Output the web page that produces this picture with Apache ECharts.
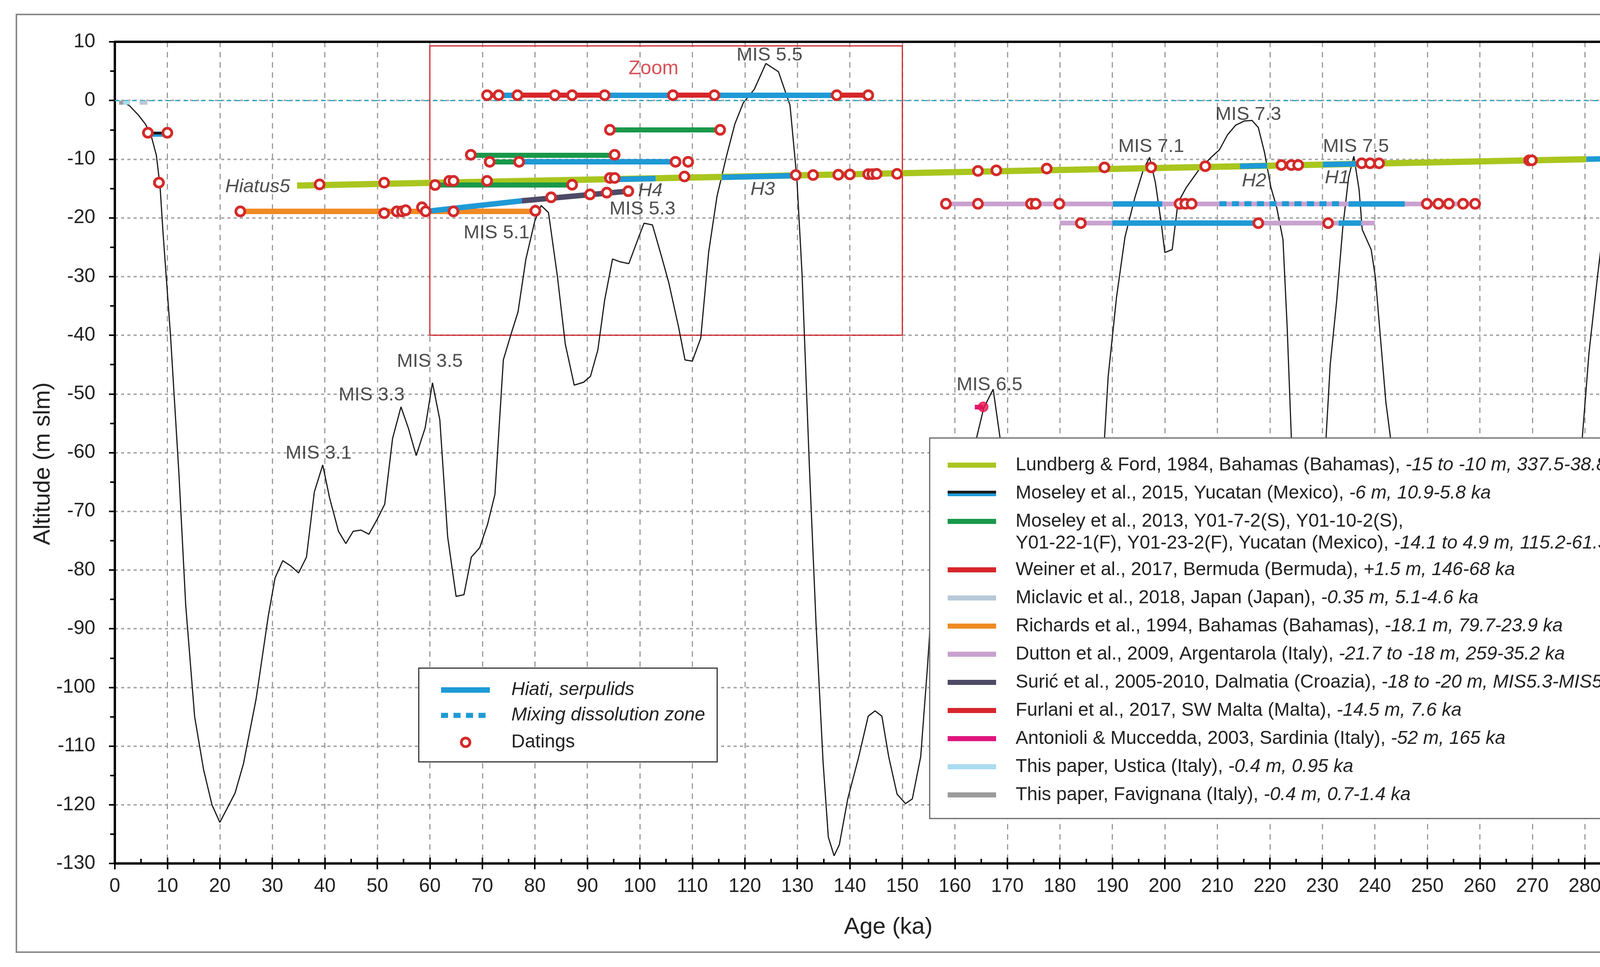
<!DOCTYPE html>
<html>
<head>
<meta charset="utf-8">
<title>Sea level curve and cave hiati</title>
<script src="https://cdn.jsdelivr.net/npm/echarts@6/dist/echarts.min.js"></script>
<style>
  html, body { margin: 0; padding: 0; background: #fff; }
  #main { width: 4433px; height: 2475px; }
</style>
</head>
<body>
<div id="main"></div>
<script>
// sea level curve, [age ka, altitude m]
var seaLevel = [
  [2, -0.5], [2.8, -0.9], [4.5, -2.5], [5.8, -4], [6.8, -5.6], [7.9, -9.3], [8.6, -14.5], [9.2, -22.8],
  [10.6, -40], [12.2, -63.5], [13.5, -86], [15.2, -105], [16.9, -114], [18.5, -120], [20, -123],
  [22.9, -118], [24.5, -113], [26.9, -102], [29.2, -88], [30.5, -81.4], [32, -78.4], [33.5, -79.3],
  [35, -80.5], [36.5, -77.8], [38, -66.7], [39.6, -62.1], [40.9, -67.7], [42.6, -73.4], [44, -75.5],
  [45.4, -73.4], [46.9, -73.2], [48.4, -73.9], [50, -71.3], [51.4, -68.8], [52.9, -57.6], [54.5, -52.2],
  [55.9, -55.8], [57.4, -60.5], [59.1, -55.8], [60.5, -48.1], [61.9, -54.4], [63.4, -74.4], [65, -84.5],
  [66.5, -84.2], [67.9, -77.8], [69.5, -76.2], [71, -72.2], [72.4, -67.1], [74, -44.2], [75.4, -40],
  [76.8, -36], [78.3, -27], [80, -20.5], [81.2, -17.9], [82.6, -19.1], [84.3, -30], [85.8, -41.5],
  [87.5, -48.5], [89.3, -48], [90.6, -47], [92, -42.5], [93.3, -34], [94.8, -27], [96.3, -27.5],
  [97.9, -27.8], [99.9, -23], [100.8, -20.9], [102.4, -21.2], [104.2, -26.8], [105.5, -31], [107.4, -38.7],
  [108.6, -44.2], [110, -44.4], [111.6, -40.5], [113.1, -25.9], [114.7, -16.3], [116.5, -9.5], [118.1, -4],
  [119.7, -0.4], [121.8, 1.9], [124, 6.3], [126.4, 4.9], [128.6, -0.8], [129.9, -13.2], [130.9, -29.6],
  [132.3, -62.5], [133.6, -89.9], [134.9, -112.7], [135.9, -125.5], [137, -128.7], [138, -126.8],
  [139.6, -119], [141.7, -111.8], [143.5, -104.9], [144.8, -104], [146.1, -104.9], [147.4, -111.8],
  [149, -118.2], [150.6, -119.8], [151.9, -119], [153.5, -111.8], [154.8, -96.3], [156, -80], [158, -70],
  [160, -64], [162, -60], [164, -58], [165.5, -52.4], [167.3, -49.2], [168.6, -57.4], [170, -72],
  [172, -90], [175, -105], [178, -112], [181, -108], [184, -95], [186.5, -75], [188.5, -57.6],
  [189.2, -47.1], [190.8, -33.5], [192.4, -23.3], [194.3, -16.5], [195.9, -11.8], [197.1, -9.7],
  [198.2, -14], [199.3, -20.8], [200, -25.9], [201.4, -25.4], [202.5, -17.4], [204.1, -14.8],
  [206.5, -11.8], [208.8, -9.7], [210.4, -8.4], [211.9, -5.9], [213.5, -4.2], [215.1, -3.5],
  [216.6, -3.4], [217.8, -4.6], [219, -8.9], [220.2, -14.8], [221.3, -18.2], [222.5, -23.7],
  [223.3, -38.6], [224.1, -57.6], [225.5, -80], [227, -92], [228.5, -85], [230, -68], [230.7, -57.6],
  [231.5, -45], [232.7, -34.4], [233.9, -21.6], [235, -13.1], [236, -9.5], [237, -15.2], [237.6, -22],
  [239.3, -25.4], [240.1, -30.1], [241.3, -42.9], [242.1, -51.4], [243, -57.6], [246, -75], [250, -95],
  [255, -110], [260, -115], [265, -110], [270, -98], [275, -80], [278, -66], [279.5, -57.6],
  [280.8, -42.9], [282.4, -30.1], [284, -18], [285.5, -17.6], [287.1, -16.3], [288.4, -16.9],
  [289.4, -25.9], [290.6, -34.4], [291.5, -40.8], [292.9, -46.7], [294.5, -49.7], [295.7, -53.5],
  [296.9, -57.4], [298.1, -59.5], [299.6, -61]
];

// segments, [age1, alt1, age2, alt2]
var lundberg = [[34.7, -14.5, 280.3, -10.0]];
var moseley2015 = [[6.3, -5.5, 10.0, -5.5]];
var moseley2013 = [[94.3, -5.0, 115.3, -5.0], [67.8, -9.3, 95.2, -9.3], [71.4, -10.45, 77.0, -10.45], [61.0, -14.4, 87.1, -14.4]];
var weiner = [[70.9, 0.9, 73.1, 0.9], [76.7, 0.9, 93.3, 0.9], [106.3, 0.9, 114.2, 0.9], [137.5, 0.9, 143.5, 0.9]];
var miclavic = [[4.7, -0.4, 6.2, -0.4]];
var richards = [[23.9, -18.9, 80.1, -18.9]];
var dutton = [[158.3, -17.6, 259.1, -17.6], [180.0, -20.9, 240.0, -20.9]];
var suric = [[77.5, -17.1, 97.8, -15.45]];
var furlani = [[7.3, -14.0, 8.4, -14.0]];
var antonioli = [[163.8, -52.2, 165.4, -52.2]];
var ustica = [[1.6, -0.4, 2.9, -0.4]];
var favignana = [[0.8, -0.4, 1.6, -0.4]];

var hiati = [
  [73.1, 0.9, 76.7, 0.9], [93.3, 0.9, 106.3, 0.9], [114.2, 0.9, 137.5, 0.9],
  [77.0, -10.45, 106.8, -10.45],
  [95.3, -13.45, 103.0, -13.3], [115.6, -13.1, 129.6, -12.8], [214.3, -11.2, 219.5, -11.1],
  [230.1, -10.9, 236.6, -10.8], [280.3, -10.0, 300, -9.6],
  [59.2, -18.9, 77.5, -17.1],
  [190.1, -17.6, 199.5, -17.6], [235.0, -17.6, 245.7, -17.6],
  [190.0, -20.9, 217.8, -20.9], [233.1, -20.9, 237.4, -20.9]
];
var mixingZone = [[210.4, -17.6, 234.0, -17.6]];

var datings = [
  [6.3, -5.5], [10.0, -5.5], [8.4, -14.0],
  [23.9, -18.9], [51.3, -19.2], [53.7, -18.9], [54.7, -18.9], [55.4, -18.7], [58.5, -18.2], [59.2, -18.9],
  [64.5, -18.9], [80.1, -18.8],
  [39.0, -14.3], [51.3, -14.0], [61.0, -14.4], [63.7, -13.7], [64.5, -13.7], [70.9, -13.7], [87.1, -14.35],
  [94.3, -13.2], [95.2, -13.2],
  [67.8, -9.25], [95.2, -9.25], [71.4, -10.45], [77.0, -10.45], [106.8, -10.45], [109.2, -10.45],
  [94.3, -5.0], [115.3, -5.0],
  [70.9, 0.9], [73.1, 0.9], [76.7, 0.9], [83.8, 0.9], [87.1, 0.9], [93.3, 0.9], [106.3, 0.9], [114.2, 0.9],
  [137.5, 0.9], [143.5, 0.9],
  [83.1, -16.5], [90.5, -16.0], [93.7, -15.7], [97.8, -15.45],
  [108.5, -12.95], [129.7, -12.7], [133.0, -12.7], [137.8, -12.65], [140.0, -12.6], [143.5, -12.55],
  [144.3, -12.55], [145.1, -12.5], [149.0, -12.5],
  [164.4, -12.0], [167.9, -11.9], [177.5, -11.6], [188.5, -11.4], [197.4, -11.4], [207.7, -11.2],
  [222.2, -11.0], [224.1, -11.0], [225.4, -11.0], [237.5, -10.7], [239.1, -10.7], [240.8, -10.7],
  [269.4, -10.2], [269.9, -10.2],
  [158.3, -17.6], [164.4, -17.6], [174.5, -17.6], [175.4, -17.6], [179.9, -17.6], [202.8, -17.6],
  [203.9, -17.6], [205.1, -17.6], [249.9, -17.6], [252.1, -17.6], [254.1, -17.6], [256.8, -17.6],
  [259.1, -17.6],
  [184.0, -20.9], [217.8, -20.9], [231.1, -20.9]
];
var antonioliDating = [[165.4, -52.2]];

// text labels, [text, age, alt]
var misLabels = [
  ['MIS 3.1', 38.8, -60.1], ['MIS 3.3', 48.9, -50.2], ['MIS 3.5', 60.0, -44.5], ['MIS 5.1', 72.7, -22.6],
  ['MIS 5.3', 100.5, -18.5], ['MIS 5.5', 124.7, 7.7], ['MIS 6.5', 166.6, -48.5], ['MIS 7.1', 197.4, -7.9],
  ['MIS 7.3', 215.9, -2.4], ['MIS 7.5', 236.4, -7.9]
];
var hiatusLabels = [
  ['Hiatus5', 27.2, -14.7], ['H4', 102.0, -15.4], ['H3', 123.4, -15.2], ['H2', 217.0, -13.7],
  ['H1', 232.8, -13.2], ['Hiatus', 289.2, -7.5]
];
var zoomBox = [60, -40, 150, 9.3];

var legendNames = [
  'Lundberg & Ford, 1984, Bahamas (Bahamas), ',
  'Moseley et al., 2015, Yucatan (Mexico), ',
  'Moseley et al., 2013, Y01-7-2(S), Y01-10-2(S),\nY01-22-1(F), Y01-23-2(F), Yucatan (Mexico), ',
  'Weiner et al., 2017, Bermuda (Bermuda), ',
  'Miclavic et al., 2018, Japan (Japan), ',
  'Richards et al., 1994, Bahamas (Bahamas), ',
  'Dutton et al., 2009, Argentarola (Italy), ',
  'Surić et al., 2005-2010, Dalmatia (Croazia), ',
  'Furlani et al., 2017, SW Malta (Malta), ',
  'Antonioli & Muccedda, 2003, Sardinia (Italy), ',
  'This paper, Ustica (Italy), ',
  'This paper, Favignana (Italy), '
];
var legendRanges = [
  '-15 to -10 m, 337.5-38.8 ka', '-6 m, 10.9-5.8 ka', '-14.1 to 4.9 m, 115.2-61.3 ka', '+1.5 m, 146-68 ka',
  '-0.35 m, 5.1-4.6 ka', '-18.1 m, 79.7-23.9 ka', '-21.7 to -18 m, 259-35.2 ka', '-18 to -20 m, MIS5.3-MIS5.1',
  '-14.5 m, 7.6 ka', '-52 m, 165 ka', '-0.4 m, 0.95 ka', '-0.4 m, 0.7-1.4 ka'
];

var C = {
  lundberg: '#a9c61e', black: '#1a1a1a', green: '#18984a', red: '#d7262b', miclavic: '#b7cad8',
  orange: '#f08a24', lilac: '#c9a2d0', suric: '#4c4a66', magenta: '#e0157e', ustica: '#a9dcf2',
  gray: '#9b9b9b', blue: '#1e9ad6', ring: '#d42a2a'
};
var legendColors = [C.lundberg, null, C.green, C.red, C.miclavic, C.orange, C.lilac, C.suric, C.red, C.magenta, C.ustica, C.gray];
var FONT = '"Liberation Sans", Arial, Helvetica, sans-serif';

function segs(list) {
  return list.map(function (s) { return { coords: [[s[0], s[1]], [s[2], s[3]]] }; });
}

function segSeries(list, color, width, z, extra) {
  var ls = { color: color, width: width, opacity: 1, cap: 'butt' };
  if (extra) { for (var k in extra) { ls[k] = extra[k]; } }
  return {
    type: 'lines', coordinateSystem: 'cartesian2d', polyline: false, silent: true,
    z: z, data: segs(list), lineStyle: ls
  };
}

function labelSeries(list, style) {
  return {
    type: 'scatter', symbolSize: 1, silent: true, z: 12,
    itemStyle: { color: 'rgba(0,0,0,0)' },
    data: list.map(function (d) { return { name: d[0], value: [d[1], d[2]] }; }),
    label: {
      show: true, position: 'inside', formatter: '{b}',
      fontSize: 49, fontFamily: FONT, color: '#222', fontStyle: style
    }
  };
}

var series = [
  {
    type: 'line', data: seaLevel, symbol: 'none', silent: true, z: 3,
    lineStyle: { color: '#1a1a1a', width: 3 },
    markLine: {
      silent: true, symbol: 'none',
      lineStyle: { color: '#2aa7c9', type: [12, 10], width: 3 },
      label: { show: true, formatter: 'l.m.m.', position: 'insideEndTop', distance: [60, 10], fontSize: 49, fontFamily: FONT, color: '#222' },
      data: [{ yAxis: 0 }]
    },
    markArea: {
      silent: true,
      itemStyle: { color: 'rgba(0,0,0,0)', borderColor: '#d0282e', borderWidth: 3 },
      label: { show: false },
      data: [[{ xAxis: zoomBox[0], yAxis: zoomBox[1] }, { xAxis: zoomBox[2], yAxis: zoomBox[3] }]]
    }
  },
  segSeries(lundberg, C.lundberg, 16, 4),
  segSeries(richards, C.orange, 14, 4),
  segSeries(dutton, C.lilac, 12, 4),
  segSeries(moseley2013, C.green, 13, 5),
  segSeries(weiner, C.red, 13, 5),
  segSeries(suric, C.suric, 14, 5),
  segSeries(furlani, C.red, 12, 5),
  segSeries(antonioli, C.magenta, 12, 5),
  segSeries(miclavic, C.miclavic, 10, 5),
  segSeries(ustica, C.ustica, 10, 5),
  segSeries(favignana, C.gray, 10, 5),
  segSeries(hiati, C.blue, 14, 6),
  segSeries(mixingZone, C.blue, 13, 7, { type: [18, 14] }),
  segSeries(moseley2015, C.black, 7, 7, { shadowColor: C.blue, shadowBlur: 0, shadowOffsetY: 6 }),
  {
    type: 'scatter', data: datings, symbol: 'circle', symbolSize: 23, silent: true, z: 10,
    itemStyle: { color: '#fff', borderColor: C.ring, borderWidth: 7, opacity: 1 }
  },
  {
    type: 'scatter', data: antonioliDating, symbol: 'circle', symbolSize: 24, silent: true, z: 10,
    itemStyle: { color: '#e8174f', borderColor: '#e8174f', borderWidth: 3 }
  },
  labelSeries(misLabels, 'normal'),
  labelSeries(hiatusLabels, 'italic'),
  {
    type: 'scatter', symbolSize: 1, silent: true, z: 12, itemStyle: { color: 'rgba(0,0,0,0)' },
    data: [{ name: 'Zoom', value: [102.6, 5.4] }],
    label: { show: true, position: 'inside', formatter: '{b}', fontSize: 50, fontFamily: FONT, color: '#d0282e' }
  }
];

// legend boxes drawn as graphics
var graphic = [
  { type: 'rect', z: 0, shape: { x: 42, y: 37, width: 4350, height: 2400 }, style: { fill: 'none', stroke: '#8a8a8a', lineWidth: 4 } },
  { type: 'text', z: 100, x: 110, y: 1187, rotation: Math.PI / 2,
    style: { text: 'Altitude (m slm)', fontSize: 60, fontFamily: FONT, fill: '#222', align: 'center', verticalAlign: 'middle' } },
  { type: 'text', z: 100, x: 2274, y: 2373,
    style: { text: 'Age (ka)', fontSize: 60, fontFamily: FONT, fill: '#222', align: 'center', verticalAlign: 'middle' } },
  { type: 'rect', z: 100, shape: { x: 2380, y: 1121, width: 1863, height: 974 }, style: { fill: '#fff', stroke: '#666', lineWidth: 3 } },
  { type: 'rect', z: 100, shape: { x: 1072, y: 1710, width: 764, height: 240 }, style: { fill: '#fff', stroke: '#333', lineWidth: 3 } },
  { type: 'rect', z: 101, shape: { x: 1129, y: 1759, width: 125, height: 14 }, style: { fill: C.blue } },
  { type: 'line', z: 101, shape: { x1: 1129, y1: 1831, x2: 1254, y2: 1831 }, style: { stroke: C.blue, lineWidth: 13, lineDash: [18, 14] } },
  { type: 'circle', z: 101, shape: { cx: 1192, cy: 1900, r: 11 }, style: { fill: '#fff', stroke: C.ring, lineWidth: 7 } },
  { type: 'text', z: 101, x: 1309, y: 1766, style: { text: 'Hiati, serpulids', fontSize: 48, fontStyle: 'italic', fontFamily: FONT, fill: '#222', verticalAlign: 'middle' } },
  { type: 'text', z: 101, x: 1309, y: 1831, style: { text: 'Mixing dissolution zone', fontSize: 48, fontStyle: 'italic', fontFamily: FONT, fill: '#222', verticalAlign: 'middle' } },
  { type: 'text', z: 101, x: 1309, y: 1900, style: { text: 'Datings', fontSize: 48, fontFamily: FONT, fill: '#222', verticalAlign: 'middle' } }
];

legendNames.forEach(function (name, i) {
  var y = 1191 + i * 72 + (i > 2 ? 52 : 0);
  if (legendColors[i]) {
    graphic.push({ type: 'rect', z: 101, shape: { x: 2426, y: y - 7, width: 124, height: 13 }, style: { fill: legendColors[i] } });
  } else {
    graphic.push({ type: 'rect', z: 101, shape: { x: 2426, y: y - 7, width: 124, height: 7 }, style: { fill: C.black } });
    graphic.push({ type: 'rect', z: 101, shape: { x: 2426, y: y, width: 124, height: 7 }, style: { fill: C.blue } });
  }
  graphic.push({
    type: 'text', z: 101, x: 2600, y: y - 28,
    style: {
      text: '{n|' + name.replace('\n', '}\n{n|') + '}{i|' + legendRanges[i] + '}',
      verticalAlign: 'top',
      rich: {
        n: { fontSize: 48, fontFamily: FONT, fill: '#222', lineHeight: 56 },
        i: { fontSize: 48, fontFamily: FONT, fontStyle: 'italic', fill: '#222', lineHeight: 56 }
      }
    }
  });
});

var chart = echarts.init(document.getElementById('main'), null, { renderer: 'canvas' });
chart.setOption({
  animation: false,
  backgroundColor: '#fff',
  grid: {
    left: 294, right: 107, top: 107, bottom: 265, containLabel: false, outerBoundsMode: 'none',
    show: true, borderColor: '#000', borderWidth: 3, backgroundColor: 'rgba(0,0,0,0)'
  },
  xAxis: [
    {
      type: 'value', min: 0, max: 300, interval: 10,
      axisLine: { show: true, onZero: false, lineStyle: { color: '#000', width: 6 } },
      axisTick: { show: true, length: 15, lineStyle: { color: '#000', width: 4 } },
      axisLabel: { fontSize: 50, fontFamily: FONT, color: '#222', margin: 34 },
      splitLine: { show: true, lineStyle: { color: '#9a9a9a', type: [14, 12], width: 3 } }
    },
    {
      type: 'value', min: 0, max: 300, interval: 10, position: 'bottom',
      axisLine: { show: false, onZero: false },
      axisTick: { show: true, inside: true, length: 15, lineStyle: { color: '#000', width: 4 } },
      minorTick: { show: true, splitNumber: 2, length: 12, lineStyle: { color: '#000', width: 4 } },
      axisLabel: { show: false },
      splitLine: { show: false }
    },
    {
      type: 'value', min: 0, max: 300, position: 'top',
      axisLine: { show: true, onZero: false, lineStyle: { color: '#000', width: 6 } },
      axisTick: { show: false },
      axisLabel: { show: false },
      splitLine: { show: false }
    }
  ],
  yAxis: {
    type: 'value', min: -130, max: 10, interval: 10,
    axisLine: { show: true, onZero: false, lineStyle: { color: '#000', width: 6 } },
    axisTick: { show: true, length: 15, lineStyle: { color: '#000', width: 4 } },
    minorTick: { show: true, splitNumber: 2, length: 12, lineStyle: { color: '#000', width: 4 } },
    axisLabel: { fontSize: 50, fontFamily: FONT, color: '#222', margin: 50 },
    splitLine: { show: true, lineStyle: { color: '#aaaaaa', type: [8, 8], width: 4 } }
  },
  graphic: graphic,
  series: series
});
</script>
</body>
</html>
